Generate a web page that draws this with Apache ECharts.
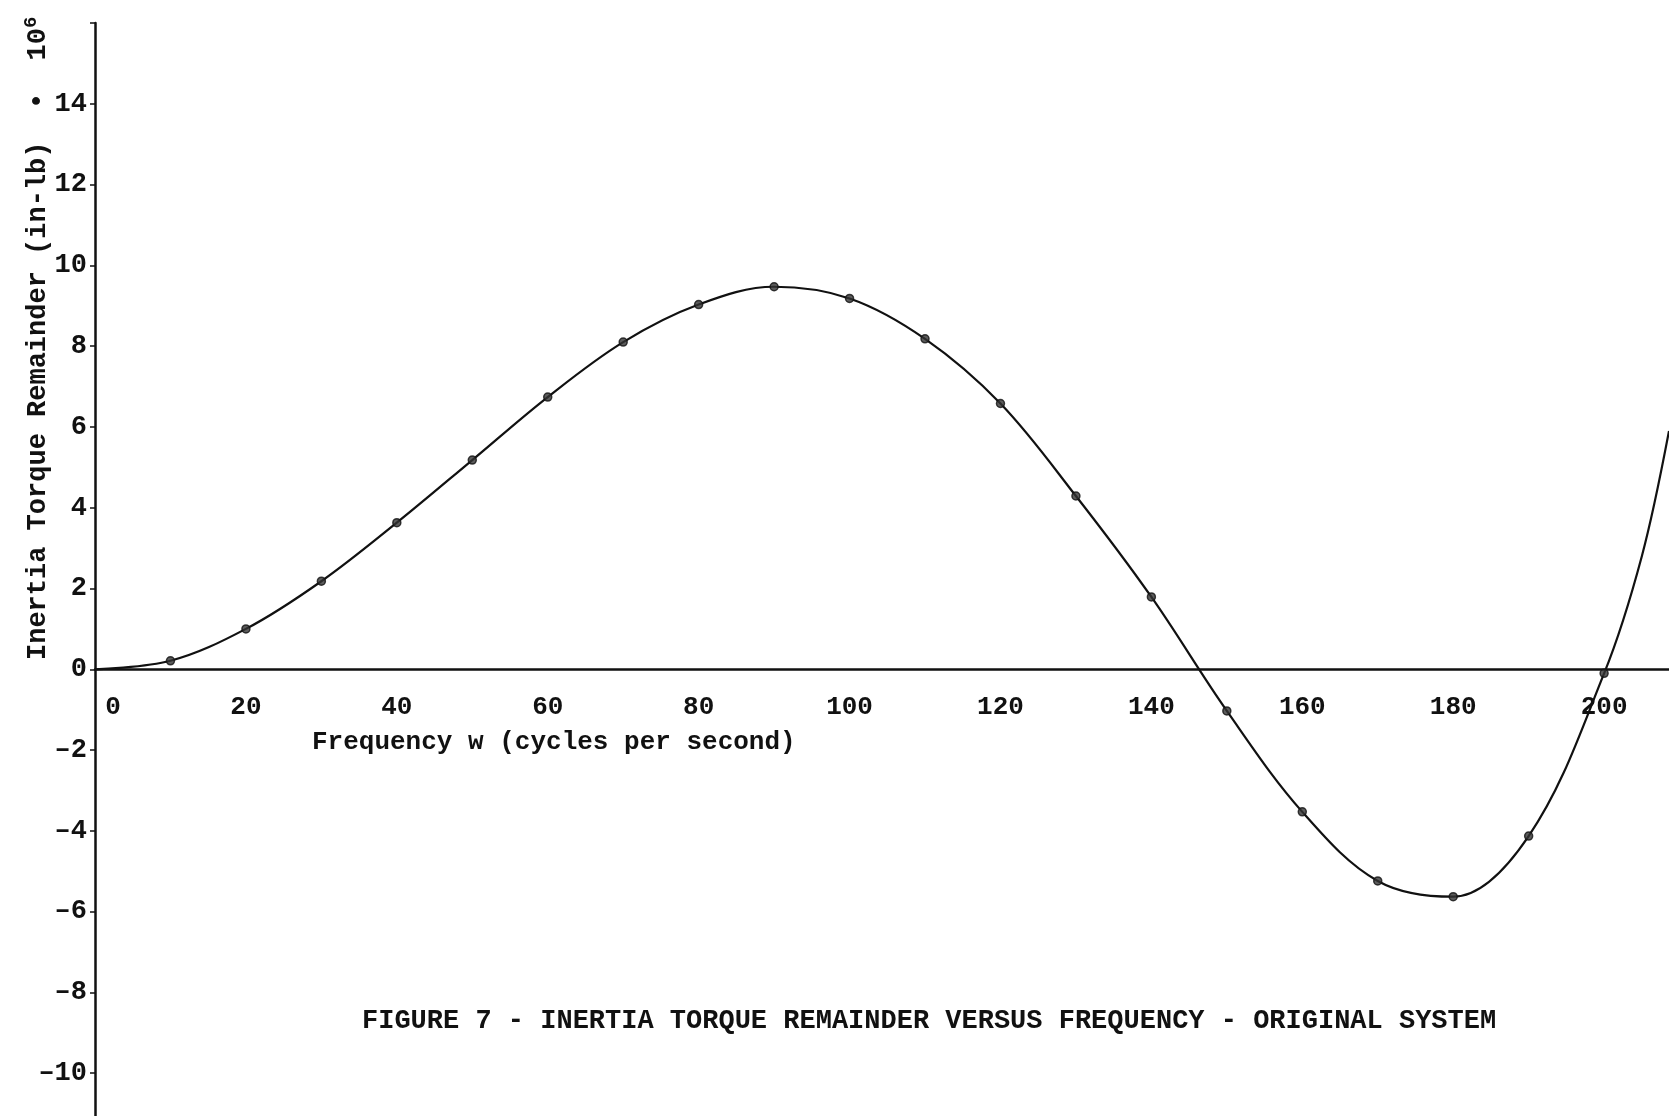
<!DOCTYPE html>
<html>
<head>
<meta charset="utf-8">
<script src="https://cdn.jsdelivr.net/npm/echarts@6/dist/echarts.min.js"></script>
<style>
html,body{margin:0;padding:0;background:#fff;}
#c{width:1669px;height:1116px;}
</style>
</head>
<body>
<div id="c"></div>
<script>
// Frequency (cycles per second) for the drawn curve
const freq = [0, 10, 20, 30, 40, 50, 60, 70, 80, 90, 100, 110, 120, 130, 140, 150, 160, 170, 180, 190, 200, 205, 208.6];
// Inertia torque remainder (in-lb) x 10^6
const torque = [0, 0.21, 1.0, 2.18, 3.63, 5.18, 6.74, 8.1, 9.03, 9.47, 9.18, 8.18, 6.58, 4.29, 1.79, -1.03, -3.53, -5.24, -5.63, -4.13, -0.1, 2.8, 5.9];
// Plotted (marked) points: indices 1..20 of the arrays above
const markFirst = 1, markLast = 20;
const xTicks = [0, 20, 40, 60, 80, 100, 120, 140, 160, 180, 200];
const yTicks = [-10, -8, -6, -4, -2, 0, 2, 4, 6, 8, 10, 12, 14];

const captionText = 'FIGURE 7 - INERTIA TORQUE REMAINDER VERSUS FREQUENCY - ORIGINAL SYSTEM';
const xName = 'Frequency w (cycles per second)';
const yName = 'Inertia Torque Remainder (in-lb)  \u2022  10';

const FONT = '"Liberation Mono", "DejaVu Sans Mono", monospace';
const INK = '#111';

const curve = freq.map((f, i) => [f, torque[i]]);
const marks = curve.slice(markFirst, markLast + 1);

// grid layout (pixels)
const G_TOP = 23, G_H = 1131, G_LEFT = 95;
const Y_MIN = -12, Y_MAX = 16;
const zeroFromBottom = G_H * (0 - Y_MIN) / (Y_MAX - Y_MIN);

const chart = echarts.init(document.getElementById('c'), null, {renderer: 'canvas'});
chart.setOption({
  animation: false,
  backgroundColor: '#fff',
  title: {
    text: captionText,
    left: 357, top: 1003,
    textStyle: {fontFamily: FONT, fontSize: 27, fontWeight: 'bold', color: INK}
  },
  grid: {left: G_LEFT, top: G_TOP, width: 1669 - G_LEFT, height: G_H, containLabel: false, outerBoundsMode: 'none'},
  xAxis: {
    type: 'value', min: 0, max: 208.6, interval: 20,
    position: 'bottom', offset: -zeroFromBottom,
    axisLine: {onZero: false, lineStyle: {color: INK, width: 2.5}},
    axisTick: {show: false},
    splitLine: {show: false},
    axisLabel: {
      margin: 25,
      fontFamily: FONT, fontSize: 26, fontWeight: 'bold', color: INK,
      formatter: v => xTicks.includes(v) ? (v === 0 ? '{z|0}' : String(v)) : '',
      rich: {z: {fontFamily: FONT, fontSize: 26, color: INK, padding: [0, 0, 0, 36]}}
    }
  },
  yAxis: {
    type: 'value', min: Y_MIN, max: Y_MAX, interval: 2,
    axisLine: {onZero: false, lineStyle: {color: INK, width: 2.5}},
    axisTick: {show: true, length: 5, inside: false, lineStyle: {color: INK, width: 1.5}},
    splitLine: {show: false},
    axisLabel: {
      margin: 8,
      fontFamily: FONT, fontSize: 27, fontWeight: 'bold', color: INK,
      formatter: v => yTicks.includes(v) ? String(v).replace('-', '\u2013') : ''
    }
  },
  graphic: [
    {
      type: 'text', left: 312, top: 729,
      style: {text: xName, fontFamily: FONT, fontSize: 26, fontWeight: 'bold', fill: INK}
    },
    {
      type: 'text', x: 22, y: 660, rotation: Math.PI / 2,
      style: {
        text: '{a|' + yName + '}{s|6}',
        rich: {
          a: {fontFamily: FONT, fontSize: 27, fontWeight: 'bold', fill: INK, color: INK},
          s: {fontFamily: FONT, fontSize: 19, fontWeight: 'bold', fill: INK, color: INK, verticalAlign: 'top', padding: [0, 0, 14, 0]}
        },
        textVerticalAlign: 'top'
      }
    }
  ],
  series: [
    {
      type: 'line', data: curve, smooth: 0.35, showSymbol: false,
      lineStyle: {color: INK, width: 2.2}, z: 2
    },
    {
      type: 'scatter', data: marks, symbol: 'circle', symbolSize: 8,
      itemStyle: {color: '#333', borderColor: INK, borderWidth: 1.5}, z: 3
    }
  ]
});
</script>
</body>
</html>
